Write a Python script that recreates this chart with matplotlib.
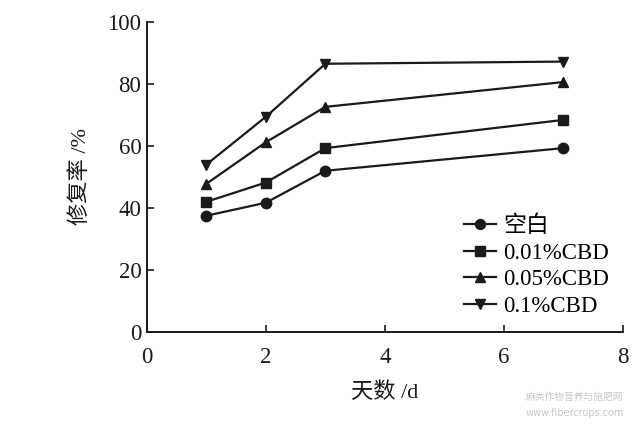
import matplotlib
matplotlib.use("Agg")
import matplotlib.pyplot as plt

days = [1, 2, 3, 7]
blank = [37.5, 41.7, 52.0, 59.3]
cbd001 = [42.0, 48.2, 59.3, 68.4]
cbd005 = [47.8, 61.2, 72.6, 80.6]
cbd01 = [54.0, 69.4, 86.5, 87.2]
labels = ["空白", "0.01%CBD", "0.05%CBD", "0.1%CBD"]
markers = ["o", "s", "^", "v"]
xticks = [0, 2, 4, 6, 8]
yticks = [0, 20, 40, 60, 80, 100]

plt.rcParams['font.family'] = ['Liberation Serif', 'Noto Sans CJK SC']

fig = plt.figure(figsize=(6.33, 4.29), dpi=100)
ax = fig.add_axes([0.232, 0.226, 0.752, 0.723])

for vals, lab, m in zip([blank, cbd001, cbd005, cbd01], labels, markers):
    ax.plot(days, vals, color='#1a1a1a', lw=1.6, marker=m, ms=7.5, label=lab)

ax.set_xlim(0, 8)
ax.set_ylim(0, 100)
ax.set_xticks(xticks)
ax.set_yticks(yticks)
ax.tick_params(direction='in', length=5, width=1.2, labelsize=16.5, colors='#1a1a1a')
ax.tick_params(axis='x', pad=11)
ax.tick_params(axis='y', pad=4)
for s in ['top', 'right']:
    ax.spines[s].set_visible(False)
for s in ['left', 'bottom']:
    ax.spines[s].set_linewidth(1.4)
    ax.spines[s].set_color('#1a1a1a')

ax.set_xlabel("天数 /d", fontsize=16, color='#1a1a1a', labelpad=10)
ax.set_ylabel("修复率 /%", fontsize=16, color='#1a1a1a', labelpad=12)

leg = ax.legend(loc='lower right', bbox_to_anchor=(0.99, 0.02), frameon=False,
                fontsize=16.5, handlelength=1.4, handletextpad=0.3,
                labelspacing=0.24, borderaxespad=0.0, markerscale=0.95)

fig.text(0.985, 0.075, "麻类作物营养与施肥网", fontsize=7, color='#c8c8c8',
         ha='right', va='center', family=['Noto Sans CJK SC'])
fig.text(0.985, 0.038, "www.fibercrops.com", fontsize=7, color='#c8c8c8',
         ha='right', va='center', family=['DejaVu Sans'])

fig.savefig("out.png", dpi=100)
